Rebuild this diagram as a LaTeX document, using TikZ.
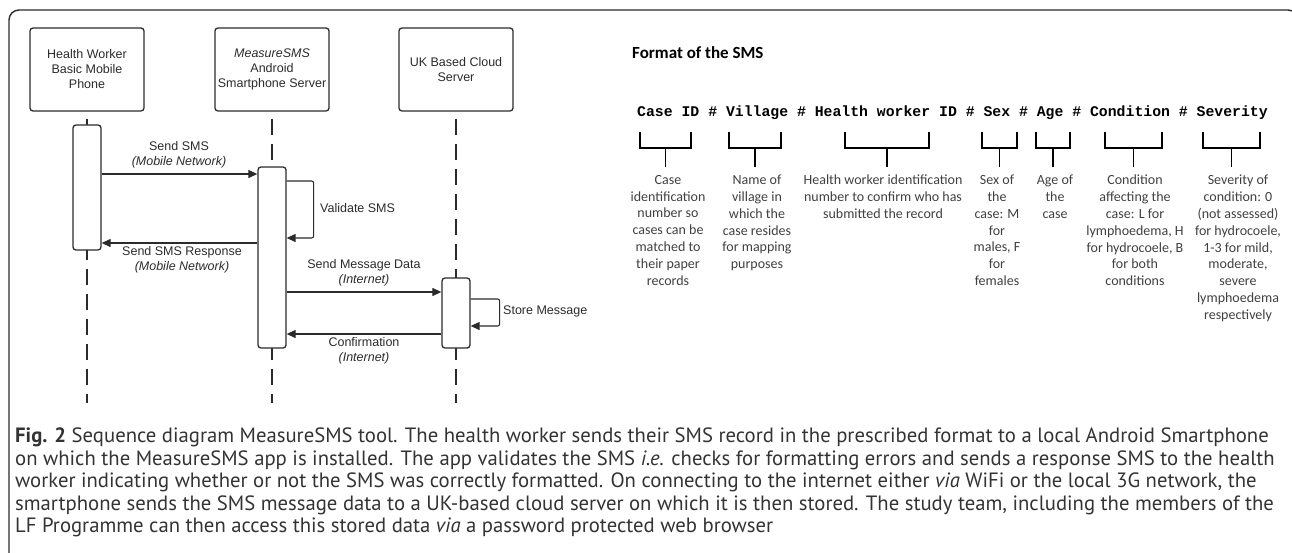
\documentclass[tikz,border=0pt]{standalone}
\usepackage{fontspec}
\setmainfont{Liberation Sans}
\newfontfamily\fmtfont{Carlito}
\newfontfamily\codefont{Liberation Mono}
\newfontfamily\capfont{PT Sans}
\usetikzlibrary{arrows.meta,calc,positioning}
\definecolor{linegray}{HTML}{2B2B2B}
\definecolor{descgray}{HTML}{404040}
\definecolor{capgray}{HTML}{333333}

\begin{document}
\begin{tikzpicture}[x=1pt,y=-1pt,
    party/.style={draw=linegray, line width=1.3pt, rounded corners=3pt, minimum width=114pt, minimum height=83pt, align=center, inner sep=0pt, text=linegray, font=\fontsize{12.5}{15}\selectfont},
    actbar/.style={draw=linegray, fill=white, line width=1.3pt, rounded corners=3pt, minimum width=28pt, inner sep=0pt},
    life/.style={draw=linegray, line width=1.1pt, dash pattern=on 16pt off 9pt},
    msg/.style={draw=linegray, line width=1.1pt, -{Triangle[length=9pt,width=8pt]}},
    lbl/.style={align=center, inner sep=0pt, text=linegray, font=\fontsize{12.5}{15}\selectfont},
    brace/.style={draw=black, line width=1.6pt},
    desc/.style={align=center, inner sep=0pt, anchor=north, text=descgray, font=\fmtfont\fontsize{14}{16.8}\selectfont}]
    \useasboundingbox (0,0) rectangle (1292,553);

    % frame
    \begin{scope}
        \clip (0,0) rectangle (1292,553);
        \draw[linegray, line width=1.4pt, rounded corners=10pt] (9,620) rectangle (1298,10);
    \end{scope}

    % participants
    \node[party] (phone) at (87,69.5) {Health Worker\\Basic Mobile\\Phone};
    \node[party] (android) at (272,69.5) {\textit{MeasureSMS}\\Android\\Smartphone Server};
    \node[party] (cloud) at (456,69.5) {UK Based Cloud\\Server};

    % lifelines
    \coordinate (bottom) at (0,403);
    \draw[life] ([yshift=-7pt]phone.south) -- (phone |- bottom);
    \draw[life] ([yshift=-7pt]android.south) -- (android |- bottom);
    \draw[life] ([yshift=-7pt]cloud.south) -- (cloud |- bottom);

    % activations
    \node[actbar, minimum height=125pt] (phoneact) at (87,187.5) {};
    \node[actbar, minimum height=181pt] (androidact) at (272,257.5) {};
    \node[actbar, minimum height=70pt] (cloudact) at (456,313) {};

    % message rows
    \coordinate (sendrow) at (0,174);
    \coordinate (valtop) at (0,181);
    \coordinate (valbot) at (0,238);
    \coordinate (resprow) at (0,243);
    \coordinate (datarow) at (0,292);
    \coordinate (storetop) at (0,299);
    \coordinate (storebot) at (0,326);
    \coordinate (confrow) at (0,334);

    % Send SMS
    \draw[msg] (phoneact.east |- sendrow) -- (androidact.west |- sendrow);
    \node[lbl] (sendlbl) at (179,154.5) {Send SMS\\\textit{(Mobile Network)}};

    % Validate SMS
    \draw[msg, rounded corners=2pt] (androidact.east |- valtop) -- ++(27,0) |- (androidact.east |- valbot);
    \node[lbl, anchor=west] (vallbl) at (320,208) {Validate SMS};

    % Send SMS Response
    \draw[msg] (androidact.west |- resprow) -- (phoneact.east |- resprow);
    \node[lbl] (resplbl) at (182,260) {Send SMS Response\\\textit{(Mobile Network)}};

    % Send Message Data
    \draw[msg] (androidact.east |- datarow) -- (cloudact.west |- datarow);
    \node[lbl] (datalbl) at (364,272.5) {Send Message Data\\\textit{(Internet)}};

    % Store Message
    \draw[msg, rounded corners=2pt] (cloudact.east |- storetop) -- ++(29,0) |- (cloudact.east |- storebot);
    \node[lbl, anchor=west] (storelbl) at (503,311) {Store Message};

    % Confirmation
    \draw[msg] (cloudact.west |- confrow) -- (androidact.east |- confrow);
    \node[lbl] (conflbl) at (364,350.5) {Confirmation\\\textit{(Internet)}};

    % SMS format
    \node[anchor=west, inner sep=0pt, font=\fmtfont\bfseries\fontsize{17}{20}\selectfont] (fmttitle) at (632,53) {Format of the SMS};
    \node[anchor=west, inner sep=0pt, font=\codefont\bfseries\fontsize{14.8}{18}\selectfont] (fmtline) at (637,113)
        {Case ID \# Village \# Health worker ID \# Sex \# Age \# Condition \# Severity};

    \foreach \l/\r in {640/691, 729/781, 845/929, 982/1017, 1036/1070, 1105/1162, 1203/1260}
        \draw[brace] (\l,132) -- (\l,148) -- (\r,148) -- (\r,132) ({(\l+\r)/2},148) -- ({(\l+\r)/2},167);

    \node[desc] (caseid) at (668,175) {Case\\identification\\number so\\cases can be\\matched to\\their paper\\records};
    \node[desc] (village) at (757,175) {Name of\\village in\\which the\\case resides\\for mapping\\purposes};
    \node[desc] (workerid) at (883,175) {Health worker identification\\number to confirm who has\\submitted the record};
    \node[desc] (sex) at (997,175) {Sex of\\the\\case: M\\for\\males, F\\for\\females};
    \node[desc] (age) at (1055,175) {Age of\\the\\case};
    \node[desc] (condition) at (1135,175) {Condition\\affecting the\\case: L for\\lymphoedema, H\\for hydrocoele, B\\for both\\conditions};
    \node[desc] (severity) at (1238,175) {Severity of\\condition: 0\\(not assessed)\\for hydrocoele,\\1-3 for mild,\\moderate,\\severe\\lymphoedema\\respectively};

    % caption
    \node[anchor=north west, inner sep=0pt, align=left, text=capgray, font=\capfont\fontsize{20.7}{22.5}\selectfont] (caption) at (15,428)
        {\textbf{Fig. 2} Sequence diagram MeasureSMS tool. The health worker sends their SMS record in the prescribed format to a local Android Smartphone\\
         on which the MeasureSMS app is installed. The app validates the SMS \textit{i.e.} checks for formatting errors and sends a response SMS to the health\\
         worker indicating whether or not the SMS was correctly formatted. On connecting to the internet either \textit{via} WiFi or the local 3G network, the\\
         smartphone sends the SMS message data to a UK-based cloud server on which it is then stored. The study team, including the members of the\\
         LF Programme can then access this stored data \textit{via} a password protected web browser};
\end{tikzpicture}
\end{document}
